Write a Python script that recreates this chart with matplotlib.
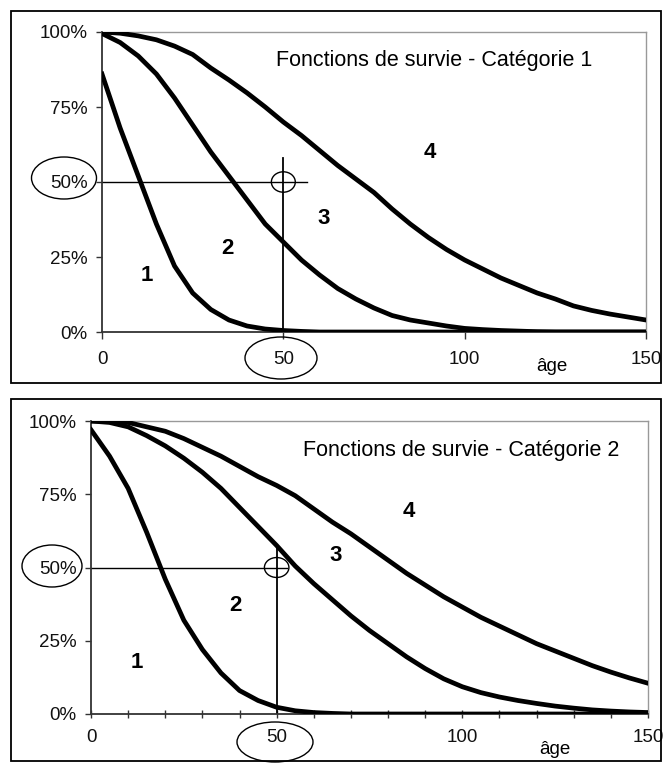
import matplotlib.pyplot as plt
from matplotlib.patches import Ellipse, Rectangle
import numpy as np

plt.rcParams['font.family'] = ['Liberation Sans', 'DejaVu Sans']

# ages (5-year steps)
ages = np.arange(0, 155, 5)

# Catégorie 1 : survival curves (in %)
cat1_c1 = [86, 68, 52, 36, 22, 13, 7.5, 4, 2, 1, 0.5, 0.2] + [0] * 19
cat1_c2 = [99.5, 96.5, 92, 86, 78, 69, 60, 52, 44, 36, 30, 24, 19, 14.5, 11, 8,
           5.5, 4, 3, 2, 1.2, 0.8, 0.5, 0.3, 0.1, 0, 0, 0, 0, 0, 0]
cat1_c3 = [100, 99.6, 98.7, 97.4, 95.3, 92.5, 88, 84, 79.7, 75, 70, 65.5, 60.5, 55.5,
           51, 46.5, 41, 36, 31.5, 27.5, 24, 21, 18, 15.5, 13, 11, 8.7, 7.2, 6, 5, 4]

# Catégorie 2
cat2_c1 = [97, 88, 77, 62, 46, 32, 22, 14, 8, 4.6, 2.3, 1.1, 0.5, 0.2] + [0] * 17
cat2_c2 = [100, 99.5, 98, 95, 91.5, 87.3, 82.5, 77, 70.5, 64, 57.5, 50.5, 44.5, 39, 33.5,
           28.5, 24, 19.5, 15.5, 12, 9.3, 7.3, 5.8, 4.6, 3.6, 2.7, 2, 1.4, 1, 0.7, 0.5]
cat2_c3 = [100, 99.9, 99.5, 98, 96.5, 94, 91, 88, 84.5, 81, 78, 74.5, 70, 65.5, 61.5,
           57, 52.5, 48, 44, 40, 36.5, 33, 30, 27, 24, 21.5, 19, 16.5, 14.3, 12.3, 10.5]

yticks = [0, 25, 50, 75, 100]
ytick_labels = ['0%', '25%', '50%', '75%', '100%']
xticks = [0, 50, 100, 150]
region_labels = ['1', '2', '3', '4']

W, H = 664, 764
fig = plt.figure(figsize=(W / 100, H / 100), dpi=100)


def px(x0, y0, x1, y1):
    # pixel box (top-left origin) -> figure fraction [l, b, w, h]
    return [x0 / W, 1 - y1 / H, (x1 - x0) / W, (y1 - y0) / H]


def fig_ellipse(cx, cy, w, h):
    e = Ellipse((cx / W, 1 - cy / H), w / W, h / H, transform=fig.transFigure,
                fill=False, ec='black', lw=1.0)
    fig.patches.append(e)


def panel(box, frame, curves, title, title_pos, lab_pos, cross, age_pos, minor):
    fr = Rectangle((frame[0] / W, 1 - frame[3] / H), (frame[2] - frame[0]) / W,
                   (frame[3] - frame[1]) / H, transform=fig.transFigure,
                   fill=False, ec='black', lw=1.3)
    fig.patches.append(fr)
    ax = fig.add_axes(px(*box))
    for c in curves:
        ax.plot(ages, c, color='black', lw=3.4, solid_joinstyle='round', zorder=3)
    ax.set_xlim(0, 150)
    ax.set_ylim(0, 100)
    ax.set_yticks(yticks)
    ax.set_yticklabels(ytick_labels)
    ax.set_xticks(xticks)
    ax.tick_params(labelsize=13.5, width=1.0, color='#333333', labelcolor='#111111')
    ax.tick_params(axis='y', length=4.5, direction='out', pad=6)
    if minor:
        ax.set_xticks(np.arange(0, 151, 10), minor=True)
        ax.tick_params(axis='x', which='both', direction='inout', length=6, width=1.0,
                       color='#333333')
        ax.tick_params(axis='x', which='major', pad=8)
    else:
        ax.tick_params(axis='x', direction='out', length=5, pad=9)
    for s in ['top', 'right']:
        ax.spines[s].set_color('#999999')
        ax.spines[s].set_linewidth(1.0)
    ax.spines['left'].set_color('#333333')
    ax.spines['left'].set_linewidth(1.3)
    ax.spines['bottom'].set_color('#333333')
    ax.spines['bottom'].set_linewidth(1.3)
    ax.text(title_pos[0], title_pos[1], title, fontsize=15.5, va='center', ha='left')
    for lab, (lx, ly) in zip(region_labels, lab_pos):
        ax.text(lx, ly, lab, fontsize=16, fontweight='bold', ha='center', va='center')
    # crosshair on the median
    hx, vy = cross
    ax.plot([0, hx], [50, 50], color='black', lw=1.0, zorder=2)
    ax.plot([50, 50], [0, vy], color='black', lw=1.3, zorder=2)
    ax.add_patch(Ellipse((50, 50), 6.6, 6.8, fill=False, ec='black', lw=1.0, zorder=4))
    ax.text(age_pos[0], age_pos[1], 'âge', fontsize=13.5, ha='center', va='center',
            clip_on=False)
    return ax


panel((102, 32, 646, 332), (11, 11, 661, 383), [cat1_c1, cat1_c2, cat1_c3],
      'Fonctions de survie - Catégorie 1', (48, 90.5),
      [(12.4, 19), (34.5, 28), (61, 38), (90.4, 60)], (56.5, 58), (124, -11.5), False)
panel((91, 421, 648, 714), (11, 399, 661, 761), [cat2_c1, cat2_c2, cat2_c3],
      'Fonctions de survie - Catégorie 2', (57, 90),
      [(12.4, 17.7), (38.8, 37), (66, 54), (85.6, 69)], (52.8, 57.7), (125, -12), True)

# ellipses around the 50% and 50 labels
fig_ellipse(64, 178, 65, 42)
fig_ellipse(281, 358, 72, 42)
fig_ellipse(52, 566, 60, 42)
fig_ellipse(275, 742, 76, 40)

fig.savefig('out.png', dpi=100)
